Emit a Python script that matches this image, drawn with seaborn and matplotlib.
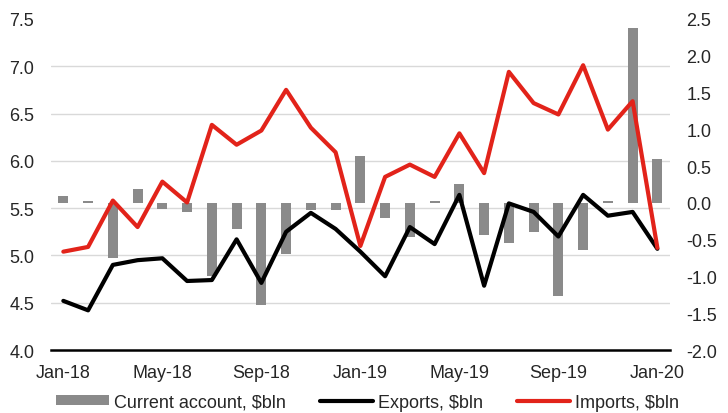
import numpy as np
import pandas as pd
import matplotlib
matplotlib.use("Agg")
import matplotlib.pyplot as plt
from matplotlib.patches import Patch
from matplotlib.lines import Line2D
import seaborn as sns

months = ["Jan-18", "Feb-18", "Mar-18", "Apr-18", "May-18", "Jun-18", "Jul-18", "Aug-18",
          "Sep-18", "Oct-18", "Nov-18", "Dec-18", "Jan-19", "Feb-19", "Mar-19", "Apr-19",
          "May-19", "Jun-19", "Jul-19", "Aug-19", "Sep-19", "Oct-19", "Nov-19", "Dec-19",
          "Jan-20"]
current_account = [0.09, 0.02, -0.75, 0.19, -0.08, -0.12, -1.00, -0.35, -1.39, -0.70,
                   -0.10, -0.10, 0.64, -0.21, -0.46, 0.03, 0.25, -0.43, -0.54, -0.40,
                   -1.27, -0.64, 0.03, 2.38, 0.59]
exports = [4.52, 4.42, 4.90, 4.95, 4.97, 4.73, 4.74, 5.17, 4.71, 5.25, 5.45, 5.28, 5.04,
           4.78, 5.30, 5.12, 5.64, 4.68, 5.55, 5.46, 5.20, 5.64, 5.42, 5.46, 5.07]
imports = [5.04, 5.09, 5.58, 5.30, 5.78, 5.56, 6.38, 6.17, 6.32, 6.75, 6.35, 6.09, 5.10,
           5.83, 5.96, 5.83, 6.29, 5.87, 6.94, 6.61, 6.49, 7.01, 6.33, 6.63, 5.08]
left_ticks = [4.0, 4.5, 5.0, 5.5, 6.0, 6.5, 7.0, 7.5]
right_ticks = [-2.0, -1.5, -1.0, -0.5, 0.0, 0.5, 1.0, 1.5, 2.0, 2.5]
labels_legend = ["Current account, $bln", "Exports, $bln", "Imports, $bln"]

GRAY = "#8a8a8a"
RED = "#e2231a"
BLACK = "#000000"

sns.set_theme(style="white")
plt.rcParams["font.family"] = ["Liberation Sans", "DejaVu Sans"]
FS = 13

df = pd.DataFrame({"pos": np.arange(len(months)), "month": months,
                   "ca": current_account, "exp": exports, "imp": imports})

fig = plt.figure(figsize=(7.28, 4.14), dpi=100)
ax = fig.add_axes([0.070, 0.152, 0.850, 0.800])
ax2 = ax.twinx()

# bars on right axis (behind)
sns.barplot(data=df, x="pos", y="ca", ax=ax2, color=GRAY, native_scale=True,
            width=0.40, saturation=1, edgecolor="none", linewidth=0, zorder=2)
# lines on left axis (front)
sns.lineplot(data=df, x="pos", y="exp", ax=ax, color=BLACK, linewidth=3.0, sort=False)
sns.lineplot(data=df, x="pos", y="imp", ax=ax, color=RED, linewidth=3.0, sort=False)

ax.set_zorder(ax2.get_zorder() + 1)
ax.patch.set_visible(False)

n = len(months)
lmin, lmax = left_ticks[0], left_ticks[-1]
rmin, rmax = right_ticks[0], right_ticks[-1]
ax.set_xlim(-0.5, n - 0.5)
ax.set_ylim(lmin, lmax)
ax2.set_ylim(rmin, rmax)

ax.set_yticks(left_ticks)
ax.set_yticklabels([f"{v:.1f}" for v in left_ticks], fontsize=FS)
ax2.set_yticks(right_ticks)
ax2.set_yticklabels([f"{v:.1f}" for v in right_ticks], fontsize=FS)
ax.tick_params(axis="y", length=0, pad=12)
ax2.tick_params(axis="y", length=0, pad=12)

# gridlines of the left scale drawn behind the bars (on the right-axis layer)
grid_right = [rmin + (v - lmin) * (rmax - rmin) / (lmax - lmin) for v in left_ticks[1:]]
ax2.set_yticks(grid_right, minor=True)
ax2.tick_params(axis="y", which="minor", length=0)
ax2.set_axisbelow(True)
ax2.grid(axis="y", which="minor", color="#d9d9d9", linewidth=1.0, zorder=0)
ax2.grid(axis="y", which="major", visible=False)
ax2.grid(axis="x", visible=False)
ax.grid(False)

# x ticks: marks at boundaries, labels at category centres
ax.set_xticks(np.arange(-0.5, n - 0.5, 4))
ax.set_xticklabels([])
ax.set_xticks(np.arange(0, n, 4), minor=True)
ax.set_xticklabels(months[::4], minor=True, fontsize=FS)
ax.tick_params(axis="x", which="major", length=4, width=1.5, color="black", direction="out")
ax.tick_params(axis="x", which="minor", length=0, pad=10)
ax2.tick_params(axis="x", which="both", length=0, labelbottom=False)
ax.set_xlabel("")
ax.set_ylabel("")
ax2.set_xlabel("")
ax2.set_ylabel("")

for a in (ax, ax2):
    for s in ("left", "right", "top", "bottom"):
        a.spines[s].set_visible(False)
ax.spines["bottom"].set_visible(True)
ax.spines["bottom"].set_color("black")
ax.spines["bottom"].set_linewidth(1.8)

handles = [Patch(facecolor=GRAY, edgecolor="none"),
           Line2D([0], [0], color=BLACK, linewidth=3.0, solid_capstyle="round"),
           Line2D([0], [0], color=RED, linewidth=3.0, solid_capstyle="round")]
fig.legend(handles, labels_legend, loc="center", bbox_to_anchor=(0.505, 0.026),
           ncol=3, frameon=False, fontsize=FS, handlelength=2.9, handleheight=0.5,
           handletextpad=0.3, columnspacing=1.9, borderaxespad=0, borderpad=0)

fig.savefig("out.png", dpi=100)
